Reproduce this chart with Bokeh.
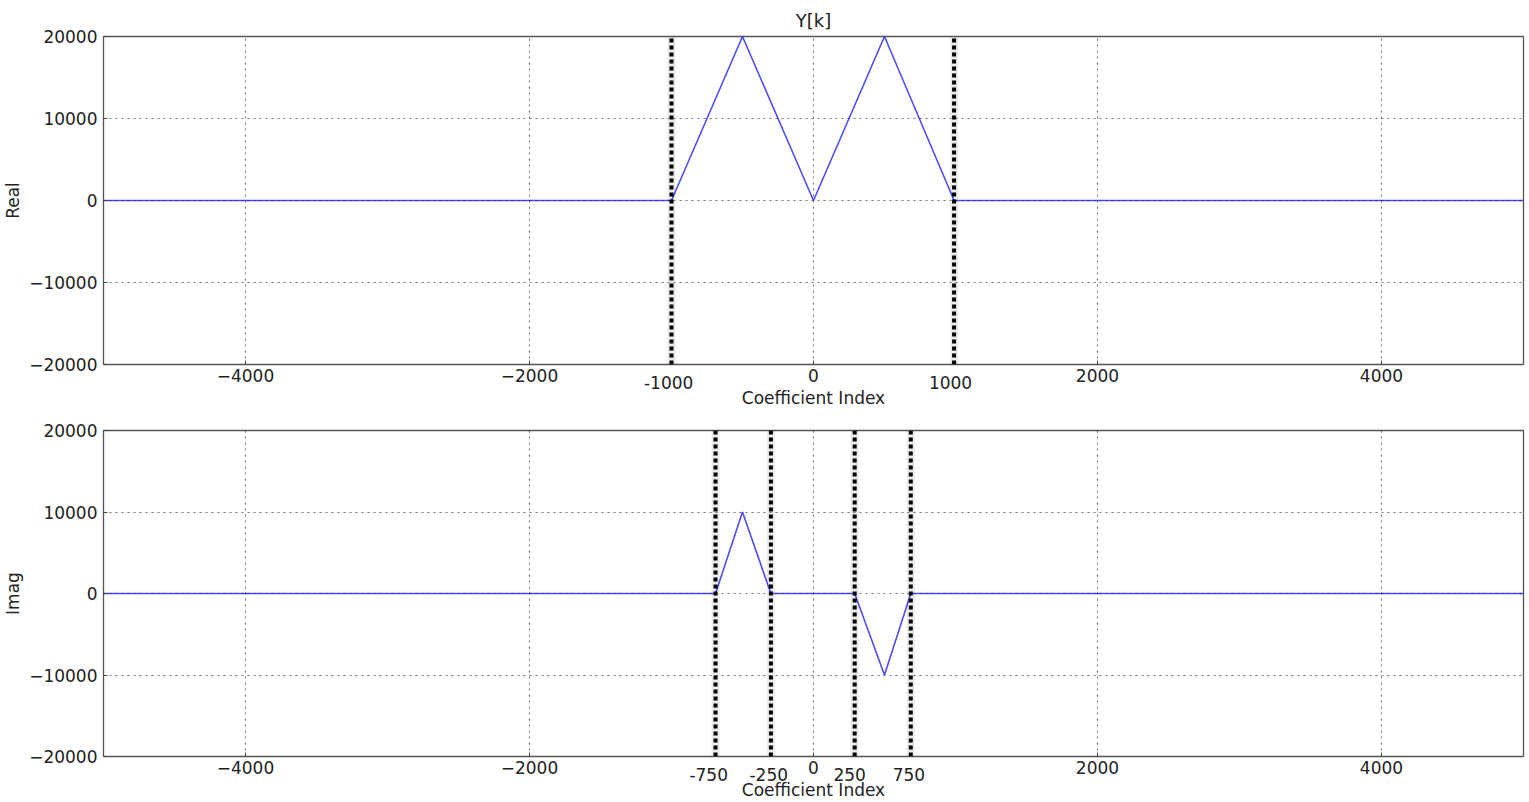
from bokeh.plotting import figure
from bokeh.layouts import column
from bokeh.models import FixedTicker, Range1d, LinearAxis
from bokeh.embed import file_html
from bokeh.resources import INLINE

# ---- data ----
real_x = [-5000, -1000, -500, 0, 500, 990, 5000]
real_y = [0, 0, 20000, 0, 20000, 0, 0]
imag_x = [-5000, -690, -500, -300, 290, 500, 685, 5000]
imag_y = [0, 0, 10000, 0, 0, -10000, 0, 0]
real_marks = [-1000, 990]                 # dotted boundary lines
real_mark_pos = [-1020, 965]              # where their labels sit
real_mark_text = ["-1000", "1000"]
imag_marks = [-690, -300, 290, 685]
imag_mark_pos = [-738, -315, 255, 672]
imag_mark_text = ["-750", "-250", "250", "750"]
x_ticks = [-4000, -2000, 0, 2000, 4000]
y_ticks = [-20000, -10000, 0, 10000, 20000]
x_lim = (-5000, 5000)
y_lim = (-20000, 20000)

FONT = "DejaVu Sans"
FS = "17px"
TXT = "#222222"


def umin(v):
    return str(v).replace("-", "\u2212")


def style_axis(ax):
    ax.major_label_text_font = FONT
    ax.major_label_text_font_size = FS
    ax.major_label_text_color = TXT
    ax.axis_label_text_font = FONT
    ax.axis_label_text_font_size = FS
    ax.axis_label_text_font_style = "normal"
    ax.axis_label_text_color = TXT
    ax.axis_line_color = None
    ax.major_tick_in = 4
    ax.major_tick_out = 0
    ax.major_tick_line_color = "#444444"
    ax.minor_tick_line_color = None


def make(title, ylabel, xs, ys, marks, mark_pos, mark_text, height, top, bottom, xlabel_standoff):
    kw = dict(title=title) if title else {}
    p = figure(width=1529, height=height, output_backend="svg", toolbar_location=None,
               x_range=Range1d(*x_lim), y_range=Range1d(*y_lim),
               min_border_left=103, min_border_right=6, min_border_top=top,
               min_border_bottom=bottom, **kw)
    if title:
        p.title.text_font = FONT
        p.title.text_font_size = "18px"
        p.title.text_font_style = "normal"
        p.title.text_color = TXT
        p.title.align = "center"
        p.title.standoff = 11
    p.outline_line_color = "#555555"
    p.outline_line_width = 1.3
    p.background_fill_color = "white"
    p.border_fill_color = "white"

    xa = p.xaxis[0]
    ya = p.yaxis[0]
    style_axis(xa)
    style_axis(ya)
    xa.ticker = FixedTicker(ticks=x_ticks)
    xa.major_label_overrides = {t: umin(t) for t in x_ticks}
    xa.major_label_standoff = 4
    ya.ticker = FixedTicker(ticks=y_ticks)
    ya.major_label_overrides = {t: umin(t) for t in y_ticks}
    ya.axis_label = ylabel
    ya.major_label_standoff = 6
    ya.axis_label_standoff = 3

    # second bottom axis carrying the boundary labels and the axis title
    ma = LinearAxis(ticker=FixedTicker(ticks=mark_pos))
    style_axis(ma)
    ma.major_tick_in = 0
    ma.major_tick_line_color = None
    ma.major_label_overrides = {pos: txt for pos, txt in zip(mark_pos, mark_text)}
    ma.major_label_standoff = -9
    ma.axis_label = "Coefficient Index"
    ma.axis_label_standoff = xlabel_standoff
    p.add_layout(ma, "below")

    for g in (p.xgrid[0], p.ygrid[0]):
        g.grid_line_color = "#000000"
        g.grid_line_alpha = 0.55
        g.grid_line_dash = "2 4"
        g.grid_line_width = 1
    p.xgrid[0].ticker = FixedTicker(ticks=x_ticks)
    p.ygrid[0].ticker = FixedTicker(ticks=y_ticks)

    p.line(xs, ys, line_color="#0000ff", line_alpha=0.7, line_width=1.6)
    y0 = [y_lim[0]] * len(marks)
    y1 = [y_lim[1]] * len(marks)
    p.segment(x0=marks, y0=y0, x1=marks, y1=y1, line_color="#000000", line_alpha=0.08,
              line_width=8)
    p.segment(x0=marks, y0=y0, x1=marks, y1=y1, line_color="#000000", line_width=4,
              line_dash="4 3")
    return p


p1 = make("Y[k]", "Real", real_x, real_y, real_marks, real_mark_pos, real_mark_text,
          410, 36, 46, -4)
p2 = make(None, "Imag", imag_x, imag_y, imag_marks, imag_mark_pos, imag_mark_text,
          392, 20, 45, -4)

layout = column(p1, p2, spacing=0)
open("out.html", "w").write(file_html(layout, INLINE))
